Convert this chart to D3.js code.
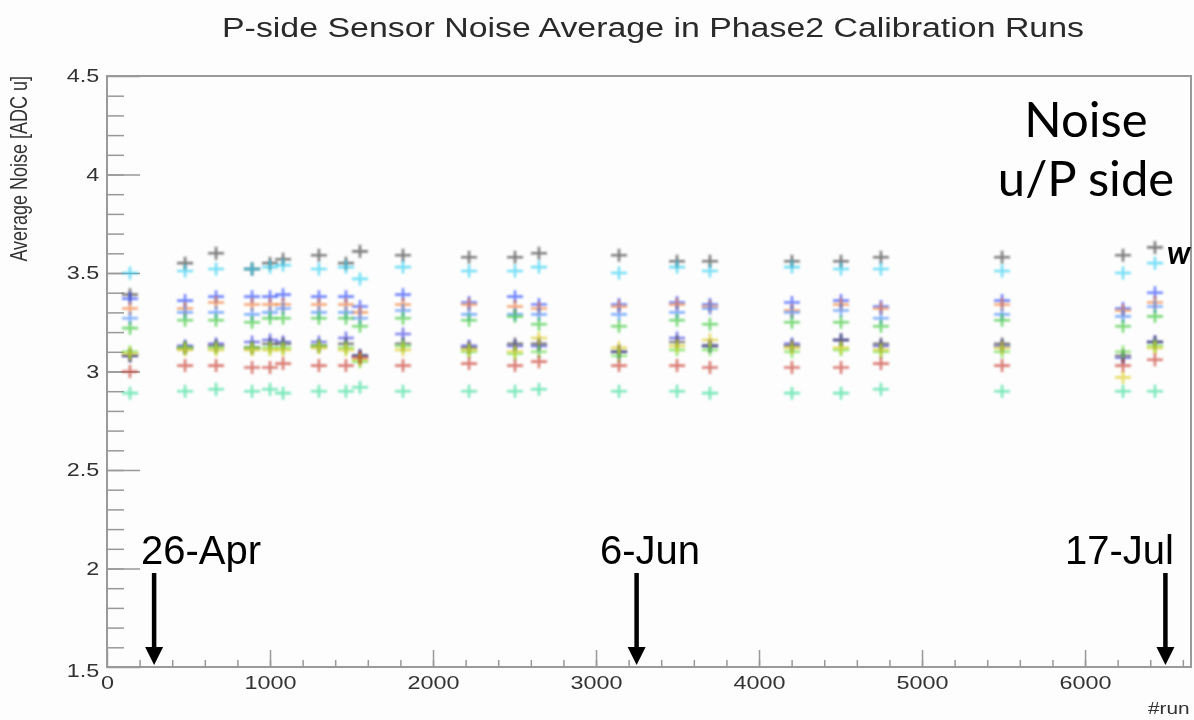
<!DOCTYPE html>
<html>
<head>
<meta charset="utf-8">
<script src="https://cdn.jsdelivr.net/npm/d3@7"></script>
<style>
  body { margin: 0; background: #fdfdfd; }
  svg { display: block; }
</style>
</head>
<body>
<svg id="chart"></svg>
<script>
// data
let runs = [141, 479, 669, 890, 1000, 1080, 1300, 1466, 1552, 1816, 2221, 2503, 2650, 3141, 3497, 3699, 4202, 4503, 4748, 5491, 6233, 6429];

let grayVals   = [3.39, 3.55, 3.60, 3.52, 3.55, 3.57, 3.59, 3.55, 3.61, 3.59, 3.58, 3.58, 3.60, 3.59, 3.56, 3.56, 3.56, 3.56, 3.58, 3.58, 3.59, 3.63];
let cyanVals   = [3.50, 3.51, 3.52, 3.52, 3.53, 3.54, 3.52, 3.53, 3.47, 3.53, 3.51, 3.51, 3.53, 3.50, 3.53, 3.51, 3.53, 3.52, 3.52, 3.51, 3.50, 3.55];
let blueVals   = [3.37, 3.36, 3.38, 3.38, 3.38, 3.39, 3.38, 3.38, 3.33, 3.39, 3.35, 3.38, 3.34, 3.34, 3.35, 3.34, 3.35, 3.36, 3.33, 3.36, 3.32, 3.40];
let orangeVals = [3.32, 3.32, 3.35, 3.34, 3.34, 3.34, 3.34, 3.34, 3.30, 3.34, 3.34, 3.33, 3.32, 3.33, 3.34, 3.33, 3.31, 3.34, 3.32, 3.34, 3.31, 3.35];
let ltBlueVals = [3.27, 3.30, 3.30, 3.29, 3.30, 3.32, 3.30, 3.30, 3.27, 3.31, 3.29, 3.29, 3.29, 3.29, 3.30, 3.32, 3.30, 3.31, 3.27, 3.29, 3.28, 3.33];
let greenVals  = [3.22, 3.26, 3.26, 3.25, 3.27, 3.27, 3.27, 3.27, 3.23, 3.27, 3.26, 3.28, 3.24, 3.23, 3.26, 3.24, 3.25, 3.25, 3.23, 3.26, 3.23, 3.28];
let blue2Vals  = [3.08, 3.13, 3.14, 3.15, 3.16, 3.15, 3.15, 3.17, 3.08, 3.19, 3.13, 3.13, 3.13, 3.10, 3.17, 3.13, 3.14, 3.16, 3.13, 3.13, 3.07, 3.15];
let gray2Vals  = [3.08, 3.12, 3.13, 3.12, 3.14, 3.14, 3.13, 3.14, 3.08, 3.14, 3.12, 3.14, 3.14, 3.10, 3.15, 3.13, 3.13, 3.16, 3.14, 3.14, 3.08, 3.15];
let green2Vals = [3.10, 3.12, 3.12, 3.12, 3.12, 3.12, 3.13, 3.12, 3.05, 3.13, 3.10, 3.09, 3.10, 3.08, 3.11, 3.11, 3.10, 3.11, 3.10, 3.10, 3.10, 3.13];
let yellowVals = [3.09, 3.11, 3.11, 3.11, 3.11, 3.11, 3.12, 3.11, 3.06, 3.11, 3.11, 3.10, 3.17, 3.12, 3.13, 3.16, 3.12, 3.12, 3.11, 3.12, 2.97, 3.12];
let redVals    = [3.00, 3.03, 3.03, 3.02, 3.02, 3.04, 3.03, 3.03, 3.07, 3.03, 3.04, 3.03, 3.05, 3.03, 3.03, 3.02, 3.02, 3.02, 3.04, 3.03, 3.03, 3.06];
let mintVals   = [2.89, 2.90, 2.91, 2.90, 2.91, 2.89, 2.90, 2.90, 2.92, 2.90, 2.90, 2.90, 2.91, 2.90, 2.90, 2.89, 2.89, 2.89, 2.91, 2.90, 2.90, 2.90];

let seriesVals   = [grayVals, cyanVals, blueVals, orangeVals, ltBlueVals, greenVals, blue2Vals, gray2Vals, green2Vals, yellowVals, redVals, mintVals];
let seriesColors = ["#3a3a3a", "#2fd0f2", "#2a48ff", "#ef7a36", "#4a8cff", "#36c636", "#4444e6", "#4a4a4a", "#66de44", "#dccc18", "#c83c2c", "#36dd9a"];

// date annotations
let dateLabels = ["26-Apr", "6-Jun", "17-Jul"];
let dateRuns   = [289, 3249, 6493];

let xTicks = [0, 1000, 2000, 3000, 4000, 5000, 6000];
let yTicks = [1.5, 2, 2.5, 3, 3.5, 4, 4.5];

let width = 1194; let height = 720;
let frame = {left: 107, right: 1191, top: 76, bottom: 667};
let stretch = 1.3;   // reference text is drawn wide

let svg = d3.select("#chart")
  .attr("width", width)
  .attr("height", height);

svg.append("rect")
  .attr("width", width).attr("height", height)
  .attr("fill", "#fdfdfd");

let defs = svg.append("defs");
defs.append("filter").attr("id", "soft")
  .append("feGaussianBlur").attr("stdDeviation", 0.8);
defs.append("filter").attr("id", "softText")
  .append("feGaussianBlur").attr("stdDeviation", 0.35);

let x = d3.scaleLinear().domain([0, 6650]).range([frame.left, frame.right]);
let y = d3.scaleLinear().domain([1.5, 4.5]).range([frame.bottom, frame.top]);

// frame
svg.append("rect")
  .attr("x", frame.left).attr("y", frame.top)
  .attr("width", frame.right - frame.left)
  .attr("height", frame.bottom - frame.top)
  .attr("fill", "none")
  .attr("stroke", "#9a9a9a")
  .attr("stroke-width", 2);

// minor ticks
svg.append("g")
  .attr("transform", "translate(0," + frame.bottom + ")")
  .call(d3.axisBottom(x).tickValues(d3.range(200, 6650, 200)).tickSize(-7).tickFormat(""))
  .call(g => g.select(".domain").remove())
  .selectAll("line").attr("stroke", "#999").attr("stroke-width", 1.5);

svg.append("g")
  .attr("transform", "translate(" + frame.left + ",0)")
  .call(d3.axisLeft(y).tickValues(d3.range(16, 45).map(d => d / 10)).tickSize(-17).tickFormat(""))
  .call(g => g.select(".domain").remove())
  .selectAll("line").attr("stroke", "#999").attr("stroke-width", 1.5);

// major ticks + labels
let xAxis = svg.append("g")
  .attr("transform", "translate(0," + frame.bottom + ")")
  .call(d3.axisBottom(x).tickValues(xTicks).tickSize(-17).tickPadding(9).tickFormat(d3.format("d")));
xAxis.select(".domain").remove();
xAxis.selectAll("line").attr("stroke", "#999").attr("stroke-width", 1.5);
xAxis.selectAll("text")
  .attr("font-family", "Liberation Sans, Arial, sans-serif")
  .attr("font-size", 18)
  .attr("fill", "#333")
  .attr("filter", "url(#softText)")
  .attr("transform", "scale(" + stretch + ",1)");

let yAxis = svg.append("g")
  .attr("transform", "translate(" + frame.left + ",0)")
  .call(d3.axisLeft(y).tickValues(yTicks).tickSize(-33).tickPadding(6).tickFormat(d3.format("")));
yAxis.select(".domain").remove();
yAxis.selectAll("line").attr("stroke", "#999").attr("stroke-width", 1.5);
yAxis.selectAll("text")
  .attr("font-family", "Liberation Sans, Arial, sans-serif")
  .attr("font-size", 18)
  .attr("fill", "#333")
  .attr("filter", "url(#softText)")
  .attr("transform", "scale(" + stretch + ",1)");

// 1.5 label sits a bit lower in ROOT
yAxis.selectAll(".tick").filter(d => d === 1.5).select("text").attr("dy", "0.55em");

// title and axis titles
svg.append("text")
  .attr("x", 653).attr("y", 37)
  .attr("text-anchor", "middle")
  .attr("font-family", "Liberation Sans, Arial, sans-serif")
  .attr("font-size", 27)
  .attr("fill", "#2a2a2a")
  .attr("filter", "url(#softText)")
  .attr("textLength", 862)
  .attr("lengthAdjust", "spacingAndGlyphs")
  .text("P-side Sensor Noise Average in Phase2 Calibration Runs");

svg.append("text")
  .attr("transform", "translate(27,76) scale(" + stretch + ",1) rotate(-90)")
  .attr("text-anchor", "end")
  .attr("font-family", "Liberation Sans, Arial, sans-serif")
  .attr("font-size", 18)
  .attr("fill", "#333")
  .attr("filter", "url(#softText)")
  .text("Average Noise [ADC u]");

svg.append("text")
  .attr("transform", "translate(1148,714) scale(" + stretch + ",1)")
  .attr("font-family", "Liberation Sans, Arial, sans-serif")
  .attr("font-size", 16)
  .attr("fill", "#333")
  .attr("filter", "url(#softText)")
  .text("#run");

// markers
let cross = "M-8,0H8M0,-6.5V6.5";
seriesVals.forEach(function(vals, i) {
  svg.append("g")
    .attr("filter", "url(#soft)")
    .selectAll("path")
    .data(vals.map((v, j) => ({run: runs[j], v: v})).filter(d => d.v != null))
    .enter()
    .append("path")
    .attr("d", cross)
    .attr("transform", d => "translate(" + x(d.run) + "," + y(d.v) + ")")
    .attr("stroke", seriesColors[i])
    .attr("stroke-width", 2.6)
    .attr("stroke-opacity", 0.65)
    .attr("fill", "none");
});

// date annotations with arrows
let labelX = [141, 600, 1065];
dateLabels.forEach(function(lab, i) {
  svg.append("text")
    .attr("x", labelX[i]).attr("y", 564)
    .attr("font-family", "Liberation Sans, Arial, sans-serif")
    .attr("font-size", 40)
    .attr("fill", "#000")
    .text(lab);

  let ax = x(dateRuns[i]);
  svg.append("line")
    .attr("x1", ax).attr("x2", ax)
    .attr("y1", 573).attr("y2", 650)
    .attr("stroke", "#000")
    .attr("stroke-width", 4.5);
  svg.append("path")
    .attr("d", "M" + (ax - 9) + ",647L" + (ax + 9) + ",647L" + ax + ",665Z")
    .attr("fill", "#000");
});

// big side note
svg.append("text")
  .attr("x", 1086).attr("y", 137)
  .attr("text-anchor", "middle")
  .attr("font-family", "Lato, sans-serif")
  .attr("font-size", 49)
  .attr("fill", "#000")
  .text("Noise");
svg.append("text")
  .attr("x", 1086).attr("y", 196)
  .attr("text-anchor", "middle")
  .attr("font-family", "Lato, sans-serif")
  .attr("font-size", 49)
  .attr("fill", "#000")
  .text("u/P side");

// glyph at the right edge
svg.append("text")
  .attr("x", 1167).attr("y", 264)
  .attr("font-family", "Lato, sans-serif")
  .attr("font-size", 32)
  .attr("font-weight", "bold")
  .attr("font-style", "italic")
  .attr("fill", "#000")
  .text("w");
</script>
</body>
</html>
